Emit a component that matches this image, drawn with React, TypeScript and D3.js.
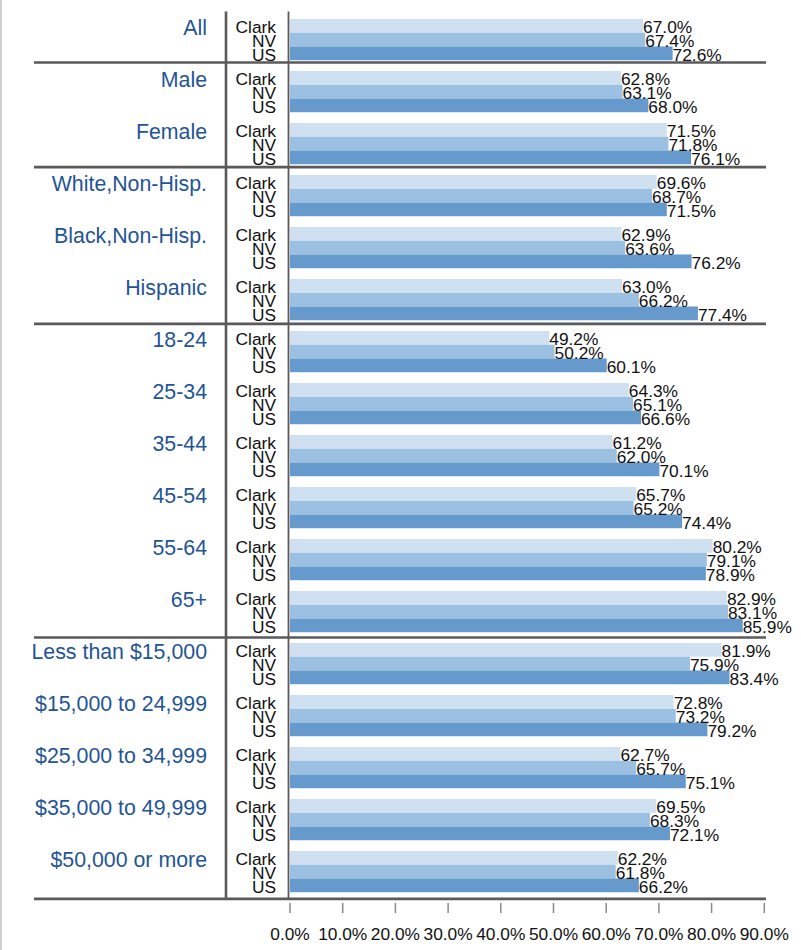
import React from "react";
import * as d3 from "d3";

const categories = [
  "All",
  "Male",
  "Female",
  "White,Non-Hisp.",
  "Black,Non-Hisp.",
  "Hispanic",
  "18-24",
  "25-34",
  "35-44",
  "45-54",
  "55-64",
  "65+",
  "Less than $15,000",
  "$15,000 to 24,999",
  "$25,000 to 34,999",
  "$35,000 to 49,999",
  "$50,000 or more",
];

const seriesNames = ["Clark", "NV", "US"];

const clarkValues = [67.0, 62.8, 71.5, 69.6, 62.9, 63.0, 49.2, 64.3, 61.2, 65.7, 80.2, 82.9, 81.9, 72.8, 62.7, 69.5, 62.2];
const nvValues = [67.4, 63.1, 71.8, 68.7, 63.6, 66.2, 50.2, 65.1, 62.0, 65.2, 79.1, 83.1, 75.9, 73.2, 65.7, 68.3, 61.8];
const usValues = [72.6, 68.0, 76.1, 71.5, 76.2, 77.4, 60.1, 66.6, 70.1, 74.4, 78.9, 85.9, 83.4, 79.2, 75.1, 72.1, 66.2];

// group boundaries (index after which a separator line is drawn)
const separatorsAfter = [1, 3, 6, 12, 17];

const tickValues = [0, 10, 20, 30, 40, 50, 60, 70, 80, 90];

const seriesColors = ["#cfe1f1", "#9bc0e1", "#6699cc"];

export default function App() {
  const width = 801;
  const height = 950;
  const font = "'Liberation Sans', Arial, Helvetica, sans-serif";

  const x = d3.scaleLinear().domain([0, 90]).range([290, 764.3]);
  const groupY = d3
    .scaleBand<string>()
    .domain(categories)
    .range([13.4, 897.4])
    .paddingInner(0.215)
    .paddingOuter(0.1075);
  const innerY = d3
    .scaleBand<string>()
    .domain(seriesNames)
    .range([0, groupY.bandwidth()])
    .paddingInner(0.03);
  const sepY = d3.scaleLinear().domain([0, 17]).range([10.3, 898.9]);

  const allSeries = [clarkValues, nvValues, usValues];
  const lineColor = "#5a5a5a";
  const fmt = d3.format(".1f");

  return (
    <div style={{ position: "absolute", left: 0, top: 0 }}>
      <svg width={width} height={height} style={{ display: "block", background: "#fff" }}>
        <line x1={1} x2={1} y1={0} y2={height} stroke="#cfcfcf" strokeWidth={2} />
        {/* bars */}
        {categories.map((c, i) => (
          <g key={c} transform={`translate(0,${groupY(c)})`}>
            {seriesNames.map((s, j) => (
              <rect
                key={s}
                x={x(0)}
                y={innerY(s)}
                width={x(allSeries[j][i]) - x(0)}
                height={innerY.step()}
                fill={seriesColors[j]}
              />
            ))}
          </g>
        ))}
        {/* separators */}
        {separatorsAfter.map((k) => (
          <line key={k} x1={34} x2={766} y1={sepY(k)} y2={sepY(k)} stroke={lineColor} strokeWidth={2.6} />
        ))}
        {/* vertical lines */}
        <line x1={226} x2={226} y1={11.5} y2={sepY(17)} stroke={lineColor} strokeWidth={2.6} />
        <line x1={288.5} x2={288.5} y1={11.5} y2={sepY(17)} stroke={lineColor} strokeWidth={1.8} />
        {/* labels */}
        {categories.map((c, i) => {
          const gy = groupY(c) as number;
          return (
            <g key={c}>
              <text
                x={207}
                y={gy + 16}
                textAnchor="end"
                fontFamily={font}
                fontSize={21.33}
                fill="#1f5596"
              >
                {c}
              </text>
              {seriesNames.map((s, j) => {
                const yb = gy + (innerY(s) as number) + innerY.step() + 0.5;
                return (
                  <g key={s}>
                    <text x={276} y={yb} textAnchor="end" fontFamily={font} fontSize={17.33} fill="#111">
                      {s}
                    </text>
                    <text x={x(allSeries[j][i])} y={yb} fontFamily={font} fontSize={17.33} fill="#111">
                      {fmt(allSeries[j][i]) + "%"}
                    </text>
                  </g>
                );
              })}
            </g>
          );
        })}
        {/* x axis ticks */}
        {tickValues.map((t) => (
          <g key={t}>
            <line x1={x(t)} x2={x(t)} y1={903} y2={913} stroke="#8a8a8a" strokeWidth={1.5} />
            <text x={x(t)} y={940} textAnchor="middle" fontFamily={font} fontSize={17.33} fill="#111">
              {fmt(t) + "%"}
            </text>
          </g>
        ))}
      </svg>
    </div>
  );
}
